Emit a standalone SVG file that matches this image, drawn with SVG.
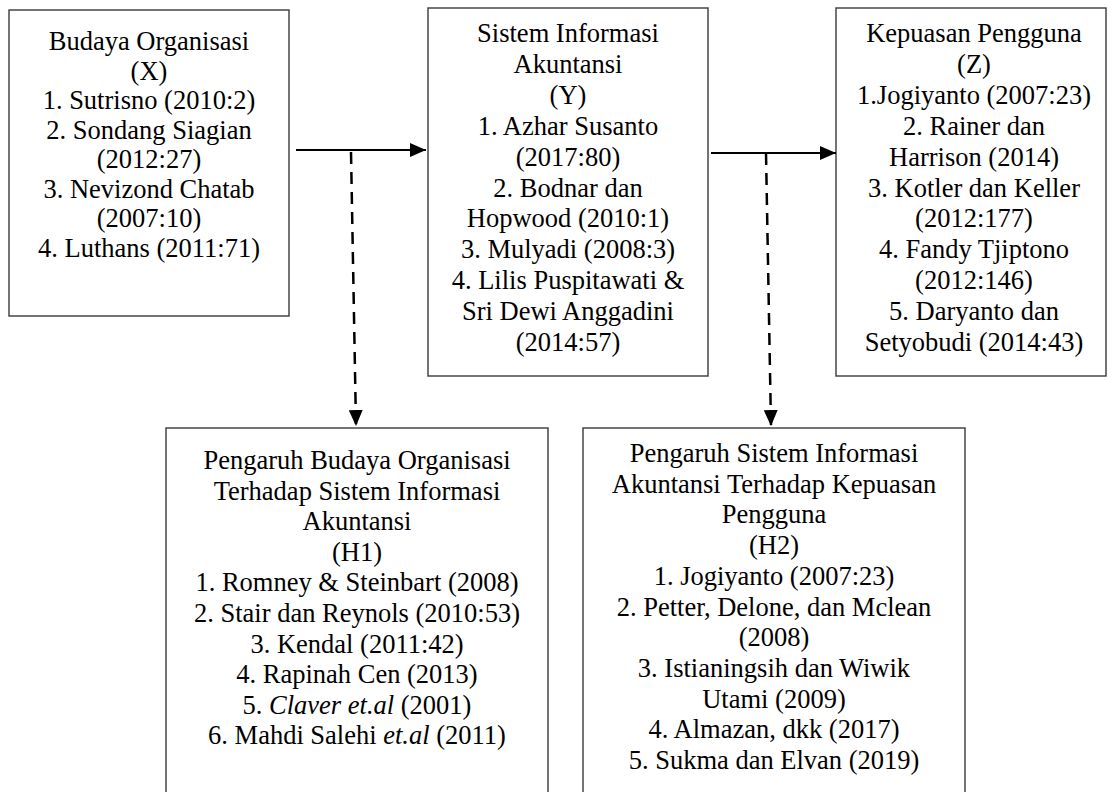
<svg xmlns="http://www.w3.org/2000/svg" width="1116" height="792" viewBox="0 0 1116 792">
<style>
.box{fill:#fff;stroke:#3a3a3a;stroke-width:1.4}
.t{font-family:"Liberation Serif","Times New Roman",serif;font-size:26.5px;fill:#000;text-anchor:middle}
.i{font-style:italic}
.ln{stroke:#000;stroke-width:2.2;fill:none}
.ds{stroke:#000;stroke-width:2.5;fill:none;stroke-dasharray:12 8}
</style>
<defs>
<marker id="ah" viewBox="0 0 16 14" refX="16" refY="7" markerWidth="16" markerHeight="14" markerUnits="userSpaceOnUse" orient="auto">
<path d="M0,0 L16,7 L0,14 Z" fill="#000"/>
</marker>
</defs>
<rect width="1116" height="792" fill="#fff"/>
<g id="nodeX">
<rect class="box" x="9" y="10" width="280" height="306"/>
<text class="t" x="149" y="50">Budaya Organisasi</text>
<text class="t" x="149" y="79.5">(X)</text>
<text class="t" x="149" y="109">1. Sutrisno (2010:2)</text>
<text class="t" x="149" y="138.5">2. Sondang Siagian</text>
<text class="t" x="149" y="168">(2012:27)</text>
<text class="t" x="149" y="197.5">3. Nevizond Chatab</text>
<text class="t" x="149" y="227">(2007:10)</text>
<text class="t" x="149" y="256.5">4. Luthans (2011:71)</text>
</g>
<g id="nodeY">
<rect class="box" x="428" y="8" width="280" height="368"/>
<text class="t" x="568" y="42">Sistem Informasi</text>
<text class="t" x="568" y="72.9">Akuntansi</text>
<text class="t" x="568" y="103.8">(Y)</text>
<text class="t" x="568" y="134.7">1. Azhar Susanto</text>
<text class="t" x="568" y="165.6">(2017:80)</text>
<text class="t" x="568" y="196.5">2. Bodnar dan</text>
<text class="t" x="568" y="227.4">Hopwood (2010:1)</text>
<text class="t" x="568" y="258.3">3. Mulyadi (2008:3)</text>
<text class="t" x="568" y="289.2">4. Lilis Puspitawati &amp;</text>
<text class="t" x="568" y="320.1">Sri Dewi Anggadini</text>
<text class="t" x="568" y="351">(2014:57)</text>
</g>
<g id="nodeZ">
<rect class="box" x="836" y="8" width="270" height="368"/>
<text class="t" x="974" y="42">Kepuasan Pengguna</text>
<text class="t" x="974" y="72.9">(Z)</text>
<text class="t" x="974" y="103.8">1.Jogiyanto (2007:23)</text>
<text class="t" x="974" y="134.7">2. Rainer dan</text>
<text class="t" x="974" y="165.6">Harrison (2014)</text>
<text class="t" x="974" y="196.5">3. Kotler dan Keller</text>
<text class="t" x="974" y="227.4">(2012:177)</text>
<text class="t" x="974" y="258.3">4. Fandy Tjiptono</text>
<text class="t" x="974" y="289.2">(2012:146)</text>
<text class="t" x="974" y="320.1">5. Daryanto dan</text>
<text class="t" x="974" y="351">Setyobudi (2014:43)</text>
</g>
<g id="nodeH1">
<rect class="box" x="166" y="428" width="382" height="372"/>
<text class="t" x="357" y="469">Pengaruh Budaya Organisasi</text>
<text class="t" x="357" y="499.6">Terhadap Sistem Informasi</text>
<text class="t" x="357" y="530.2">Akuntansi</text>
<text class="t" x="357" y="560.8">(H1)</text>
<text class="t" x="357" y="591.4">1. Romney &amp; Steinbart (2008)</text>
<text class="t" x="357" y="622">2. Stair dan Reynols (2010:53)</text>
<text class="t" x="357" y="652.6">3. Kendal (2011:42)</text>
<text class="t" x="357" y="683.2">4. Rapinah Cen (2013)</text>
<text class="t" x="357" y="713.8">5. <tspan class="i">Claver et.al</tspan> (2001)</text>
<text class="t" x="357" y="744.4">6. Mahdi Salehi <tspan class="i">et.al</tspan> (2011)</text>
</g>
<g id="nodeH2">
<rect class="box" x="583" y="428" width="382" height="372"/>
<text class="t" x="774" y="462">Pengaruh Sistem Informasi</text>
<text class="t" x="774" y="492.7">Akuntansi Terhadap Kepuasan</text>
<text class="t" x="774" y="523.4">Pengguna</text>
<text class="t" x="774" y="554.1">(H2)</text>
<text class="t" x="774" y="584.8">1. Jogiyanto (2007:23)</text>
<text class="t" x="774" y="615.5">2. Petter, Delone, dan Mclean</text>
<text class="t" x="774" y="646.2">(2008)</text>
<text class="t" x="774" y="676.9">3. Istianingsih dan Wiwik</text>
<text class="t" x="774" y="707.6">Utami (2009)</text>
<text class="t" x="774" y="738.3">4. Almazan, dkk (2017)</text>
<text class="t" x="774" y="769">5. Sukma dan Elvan (2019)</text>
</g>
<g id="connectors">
<line class="ln" x1="296" y1="150" x2="426" y2="150" marker-end="url(#ah)"/>
<line class="ln" x1="711" y1="153" x2="836" y2="153" marker-end="url(#ah)"/>
<line class="ds" x1="351" y1="152" x2="356" y2="426" marker-end="url(#ah)"/>
<line class="ds" x1="766" y1="153" x2="771" y2="426" marker-end="url(#ah)"/>
</g>
</svg>
